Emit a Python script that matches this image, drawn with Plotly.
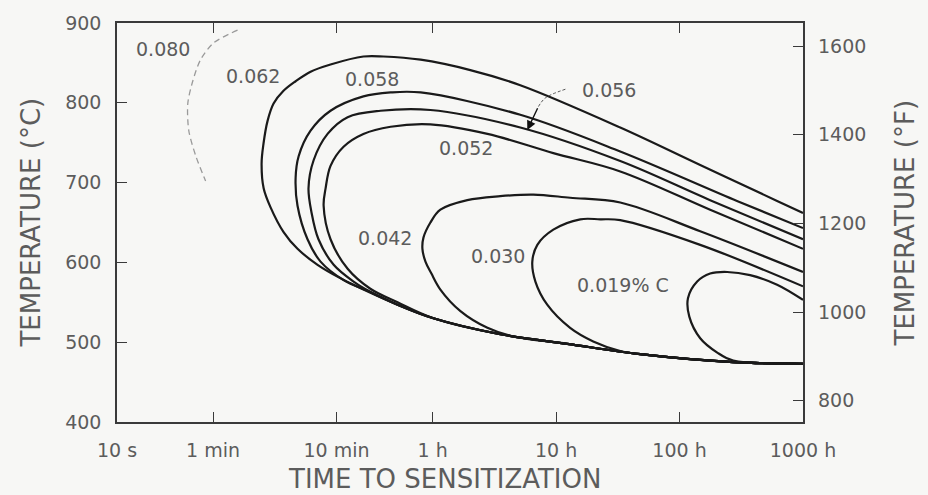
import numpy as np
import plotly.graph_objects as go

# ---------------- data (time in hours, temperature in deg C) ----------------
tick_hours = [10 / 3600, 1 / 60, 1 / 6, 1, 10, 100, 1000]
tick_text = ["10 s", "1 min", "10 min", "1 h", "10 h", "100 h", "1000 h"]
c_ticks = [400, 500, 600, 700, 800, 900]
f_ticks = [800, 1000, 1200, 1400, 1600]

c080_t = [0.0263, 0.0168, 0.0132, 0.0114, 0.0104, 0.0106, 0.0121, 0.0145]
c080_T = [891, 875, 854, 827, 799, 765, 733, 702]

c062_t = [1000, 617, 147, 33.1, 5.13, 2.02, 0.80, 0.40, 0.275, 0.149, 0.1027, 0.0777, 0.062,
          0.0515, 0.046, 0.0427, 0.0412, 0.0428, 0.0487, 0.0621, 0.0805, 0.117, 0.18, 0.275,
          0.52, 1.015, 3.53, 12.3, 48.1, 272, 1000]
c062_T = [662, 677, 722, 769, 822, 841, 854, 858, 858, 848, 839, 827, 815,
          799, 777, 749, 724, 693, 669, 638, 617, 597, 580, 566,
          547, 530, 510, 498, 485, 475, 473]

c058_t = [1000, 292, 33.1, 5.13, 0.80, 0.457, 0.275, 0.149, 0.1027, 0.0822, 0.0777, 0.0805,
          0.097, 0.1237, 0.19, 0.313, 0.52, 1.015, 3.53, 12.3, 48.1, 272, 1000]
c058_T = [643, 677, 739, 785, 813, 813, 808, 790, 765, 733, 706, 671,
          629, 601, 578, 563, 547, 530, 510, 498, 485, 475, 473]

c056_t = [1000, 177, 33.1, 5.13, 0.96, 0.378, 0.205, 0.141, 0.1087, 0.0988, 0.1047, 0.119,
          0.158, 0.229, 0.332, 0.52, 1.015, 3.53, 12.3, 48.1, 272, 1000]
c056_T = [629, 678, 727, 769, 791, 790, 782, 761, 728, 693, 662, 629,
          597, 576, 561, 547, 530, 510, 498, 485, 475, 473]

c052_t = [1000, 177, 33.1, 9.5, 2.78, 0.96, 0.457, 0.275, 0.19, 0.149, 0.136, 0.131, 0.149,
          0.205, 0.313, 0.52, 1.015, 3.53, 12.3, 48.1, 272, 1000]
c052_T = [617, 666, 714, 737, 761, 773, 770, 761, 745, 721, 693, 671, 629,
          592, 567, 550, 530, 510, 498, 485, 475, 473]

c042_t = [1000, 147, 33.1, 13.0, 6.54, 3.53, 1.91, 1.156, 0.96, 0.843, 0.827, 0.875, 0.978,
          1.156, 1.68, 2.78, 4.27, 12.3, 48.1, 272, 1000]
c042_T = [588, 639, 675, 681, 685, 683, 678, 666, 650, 631, 617, 601, 586,
          566, 539, 518, 508, 498, 485, 475, 473]

c030_t = [1000, 147, 33.1, 22.8, 15.7, 9.5, 7.05, 6.42, 6.8, 8.48, 13.0, 20.0, 33.1,
          48.1, 272, 1000]
c030_T = [570, 622, 653, 654, 654, 641, 622, 601, 576, 547, 518, 501, 489,
          485, 475, 473]

c019_t = [1000, 617, 373, 243, 177, 139, 117, 120, 147, 202, 272, 1000]
c019_T = [553, 572, 584, 588, 586, 576, 555, 532, 505, 487, 477, 473]

arrow_t = [11.9, 8.18, 7.18]
arrow_T = [817, 806, 795]
arrow_tip_t, arrow_tip_T = 5.85, 766

labels = ["0.080", "0.062", "0.058", "0.056", "0.052", "0.042", "0.030", "0.019% C"]
label_t = [0.00651, 0.0348, 0.32, 27, 1.88, 0.41, 3.41, 35]
label_T = [867, 834, 830, 816, 743, 630, 608, 572]

# ---------------- figure ----------------
FONT = "DejaVu Sans"
TXT = "#5c5c5c"
LINE = "#1a1a1a"
FRAME = "#3a3a3a"
BG = "#f7f7f5"

fig = go.Figure()

fig.add_trace(go.Scatter(x=c080_t, y=c080_T, mode="lines",
                         line=dict(color="#9a9a9a", width=1.3, dash="6px,4px",
                                   shape="spline", smoothing=0.8),
                         showlegend=False, hoverinfo="skip"))

for t, T in [(c062_t, c062_T), (c058_t, c058_T), (c056_t, c056_T), (c052_t, c052_T),
             (c042_t, c042_T), (c030_t, c030_T), (c019_t, c019_T)]:
    fig.add_trace(go.Scatter(x=t, y=T, mode="lines",
                             line=dict(color=LINE, width=2.2, shape="spline", smoothing=1.0),
                             showlegend=False, hoverinfo="skip"))

# arrow shaft (thin dashed) for 0.056 label
fig.add_trace(go.Scatter(x=arrow_t, y=arrow_T, mode="lines",
                         line=dict(color="#555", width=1, dash="3px,2px", shape="spline"),
                         showlegend=False, hoverinfo="skip"))

# dummy trace to activate the right (deg F) axis
fig.add_trace(go.Scatter(x=[None], y=[None], yaxis="y2", showlegend=False, hoverinfo="skip"))

annotations = []
for txt, t, T in zip(labels, label_t, label_T):
    annotations.append(dict(x=np.log10(t), y=T, xref="x", yref="y", text=txt, showarrow=False,
                            font=dict(family=FONT, size=19, color=TXT),
                            xanchor="center", yanchor="middle"))

annotations.append(dict(x=np.log10(arrow_tip_t), y=arrow_tip_T, xref="x", yref="y",
                        ax=np.log10(arrow_t[-1]), ay=arrow_T[-1], axref="x", ayref="y",
                        text="", showarrow=True, arrowhead=2, arrowsize=1.3,
                        arrowwidth=1.4, arrowcolor="#111"))

annotations += [
    dict(x=-0.1268, y=0.5, xref="paper", yref="paper", text="TEMPERATURE (°C)",
         textangle=-90, showarrow=False, xanchor="center", yanchor="middle",
         font=dict(family=FONT, size=26, color=TXT)),
    dict(x=1.1487, y=0.4975, xref="paper", yref="paper", text="TEMPERATURE (°F)",
         textangle=-90, showarrow=False, xanchor="center", yanchor="middle",
         font=dict(family=FONT, size=26, color=TXT)),
    dict(x=0.4767, y=-0.1436, xref="paper", yref="paper", text="TIME TO SENSITIZATION",
         showarrow=False, xanchor="center", yanchor="middle",
         font=dict(family=FONT, size=26, color=TXT)),
]

tickfont = dict(family=FONT, size=19, color=TXT)

fig.update_layout(
    width=928, height=495, autosize=False,
    margin=dict(l=117, r=125, t=18, b=73),
    paper_bgcolor=BG, plot_bgcolor=BG,
    font=dict(family=FONT, color=TXT),
    showlegend=False,
    annotations=annotations,
    xaxis=dict(type="log", range=[np.log10(10 / 3600), np.log10(1000)],
               tickvals=tick_hours, ticktext=tick_text, ticks="inside", ticklen=10,
               tickcolor=FRAME, tickwidth=1.2, showline=True, linecolor=FRAME, linewidth=1.6,
               mirror="ticks", showgrid=False, zeroline=False, tickfont=tickfont,
               ticklabelstandoff=10),
    yaxis=dict(range=[400, 900], tickvals=c_ticks, ticks="inside", ticklen=10,
               tickcolor=FRAME, tickwidth=1.2, showline=True, linecolor=FRAME, linewidth=1.6,
               mirror=True, showgrid=False, zeroline=False, tickfont=tickfont,
               ticklabelstandoff=10),
    yaxis2=dict(overlaying="y", side="right", range=[400 * 9 / 5 + 32, 900 * 9 / 5 + 32],
                tickvals=f_ticks, ticks="inside", ticklen=10, tickcolor=FRAME, tickwidth=1.2,
                showline=False, showgrid=False, zeroline=False, tickfont=tickfont,
                ticklabelstandoff=14),
)

fig.write_html("out.html",
               config={"displayModeBar": False},
               post_script="document.body.style.margin='0';"
                           "document.body.style.background='" + BG + "';")
